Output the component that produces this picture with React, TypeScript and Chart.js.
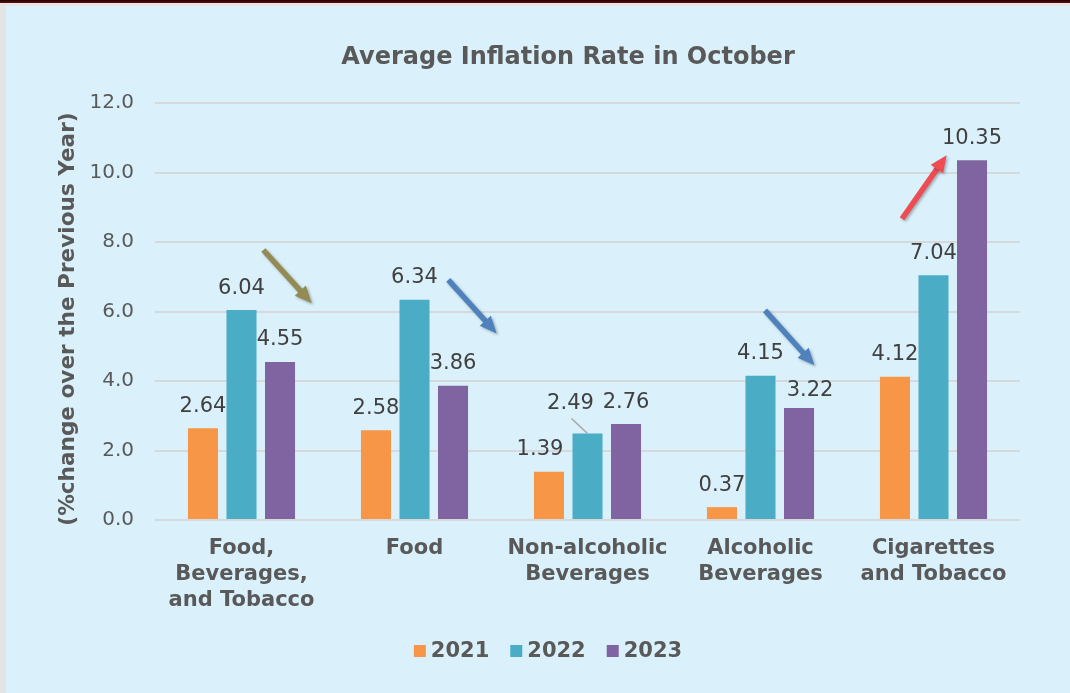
import React, { useEffect, useRef } from "react";
import { Chart, registerables } from "chart.js";

Chart.register(...registerables);

// ---------- data ----------
const categories: string[][] = [
  ["Food,", "Beverages,", "and Tobacco"],
  ["Food"],
  ["Non-alcoholic", "Beverages"],
  ["Alcoholic", "Beverages"],
  ["Cigarettes", "and Tobacco"],
];
const seriesNames = ["2021", "2022", "2023"];
const values2021 = [2.64, 2.58, 1.39, 0.37, 4.12];
const values2022 = [6.04, 6.34, 2.49, 4.15, 7.04];
const values2023 = [4.55, 3.86, 2.76, 3.22, 10.35];
const seriesColors = ["#F79646", "#4BACC6", "#8064A2"];
const yMin = 0;
const yMax = 12;
const yStep = 2;
const titleText = "Average Inflation Rate in October";
const yAxisTitle = "(%change over the Previous Year)  ";

// trend arrows, anchored in data space: [category index, value]
const arrows = [
  { from: [0.126, 7.77], to: [0.406, 6.24], color: "#948A54" },
  { from: [1.195, 6.91], to: [1.475, 5.37], color: "#4F81BD" },
  { from: [3.026, 6.03], to: [3.312, 4.45], color: "#4F81BD" },
  { from: [3.818, 8.67], to: [4.076, 10.5], color: "#EE4B52" },
];

// label nudges (dataset-index)
const labelNudges: Record<string, { dx?: number; dy?: number; leader?: boolean }> = {
  "0-2": { dx: -9 },
  "1-2": { dx: -17, dy: -8, leader: true },
  "2-3": { dx: 11, dy: 4 },
};

const FONT = "'DejaVu Sans', Verdana, sans-serif";

const overlayPlugin = {
  id: "overlay",
  afterDatasetsDraw(chart: any) {
    const { ctx, chartArea, scales } = chart;
    const xs = scales.x;
    const ys = scales.y;

    // data labels
    ctx.save();
    ctx.font = `21px ${FONT}`;
    ctx.fillStyle = "#404040";
    ctx.textAlign = "center";
    ctx.textBaseline = "middle";
    chart.data.datasets.forEach((ds: any, di: number) => {
      const meta = chart.getDatasetMeta(di);
      meta.data.forEach((bar: any, i: number) => {
        const n = labelNudges[`${di}-${i}`] || {};
        const lx = bar.x + (n.dx || 0);
        const ly = bar.y - 22 + (n.dy || 0);
        ctx.fillText(Number(ds.data[i]).toFixed(2), lx, ly);
        if (n.leader) {
          ctx.strokeStyle = "#A6A6A6";
          ctx.lineWidth = 1.5;
          ctx.beginPath();
          ctx.moveTo(lx + 1, ly + 15);
          ctx.lineTo(bar.x, bar.y);
          ctx.stroke();
        }
      });
    });
    ctx.restore();

    // arrows
    arrows.forEach((a) => {
      const x1 = xs.getPixelForValue(a.from[0]);
      const y1 = ys.getPixelForValue(a.from[1]);
      const x2 = xs.getPixelForValue(a.to[0]);
      const y2 = ys.getPixelForValue(a.to[1]);
      const dx = x2 - x1;
      const dy = y2 - y1;
      const len = Math.hypot(dx, dy);
      const ux = dx / len;
      const uy = dy / len;
      const nx = -uy;
      const ny = ux;
      const headLen = 17;
      const headW = 15;
      const bx = x2 - ux * headLen;
      const by = y2 - uy * headLen;
      ctx.save();
      ctx.shadowColor = "rgba(0,0,0,0.3)";
      ctx.shadowBlur = 3;
      ctx.shadowOffsetX = 1.5;
      ctx.shadowOffsetY = 1.5;
      ctx.strokeStyle = a.color;
      ctx.fillStyle = a.color;
      ctx.lineWidth = 5.5;
      ctx.beginPath();
      ctx.moveTo(x1, y1);
      ctx.lineTo(bx + ux * 2, by + uy * 2);
      ctx.stroke();
      ctx.beginPath();
      ctx.moveTo(x2, y2);
      ctx.lineTo(bx + nx * headW / 2, by + ny * headW / 2);
      ctx.lineTo(bx - nx * headW / 2, by - ny * headW / 2);
      ctx.closePath();
      ctx.fill();
      ctx.restore();
    });

    // title
    ctx.save();
    ctx.font = `bold 24px ${FONT}`;
    ctx.fillStyle = "#595959";
    ctx.textAlign = "center";
    ctx.textBaseline = "middle";
    const cx = (chartArea.left + chartArea.right) / 2;
    ctx.fillText(titleText, cx - 19.5, chartArea.top - 45);
    ctx.restore();

    // legend
    ctx.save();
    ctx.font = `bold 21px ${FONT}`;
    ctx.textBaseline = "middle";
    ctx.textAlign = "left";
    const box = 12;
    const gapBoxText = 5;
    const gapItems = 21;
    const widths = seriesNames.map((s) => box + gapBoxText + ctx.measureText(s).width);
    const total = widths.reduce((p, w) => p + w, 0) + gapItems * (seriesNames.length - 1);
    let x = cx - 39.5 - total / 2;
    const ly = chartArea.bottom + 131;
    seriesNames.forEach((s, i) => {
      ctx.fillStyle = seriesColors[i];
      ctx.fillRect(x, ly - box / 2, box, box);
      ctx.fillStyle = "#595959";
      ctx.fillText(s, x + box + gapBoxText, ly + 1);
      x += widths[i] + gapItems;
    });
    ctx.restore();
  },
};

export default function App() {
  const canvasRef = useRef<HTMLCanvasElement | null>(null);

  useEffect(() => {
    document.body.style.margin = "0";
    document.body.style.overflow = "hidden";
    const canvas = canvasRef.current;
    if (!canvas) return;
    const chart = new Chart(canvas, {
      type: "bar",
      data: {
        labels: categories,
        datasets: [values2021, values2022, values2023].map((vals, i) => ({
          label: seriesNames[i],
          data: vals,
          backgroundColor: seriesColors[i],
          borderWidth: 0,
          categoryPercentage: 0.668,
          barPercentage: 0.78,
        })),
      },
      options: {
        responsive: false,
        animation: false,
        devicePixelRatio: 1,
        layout: { padding: { top: 97, right: 50, left: 0, bottom: 0 } },
        plugins: {
          legend: { display: false },
          title: { display: false },
          tooltip: { enabled: false },
        },
        scales: {
          x: {
            grid: { display: false, drawTicks: false },
            border: { display: false },
            ticks: {
              color: "#595959",
              font: { family: FONT, size: 21, weight: "bold", lineHeight: 1.22 },
              maxRotation: 0,
              autoSkip: false,
              padding: 16,
            },
            afterFit: (scale: any) => {
              scale.height = 173;
            },
          },
          y: {
            min: yMin,
            max: yMax,
            grid: { color: "#D6D9DB", lineWidth: 2, drawTicks: false },
            border: { display: false },
            ticks: {
              stepSize: yStep,
              color: "#595959",
              font: { family: FONT, size: 20 },
              padding: 21,
              callback: (v: any) => Number(v).toFixed(1),
            },
            title: {
              display: true,
              text: yAxisTitle,
              color: "#595959",
              font: { family: FONT, size: 21.6, weight: "bold", lineHeight: 1.2 },
              padding: { top: 49, bottom: 0 },
            },
            afterFit: (scale: any) => {
              scale.width = 149;
            },
          },
        },
      },
      plugins: [overlayPlugin],
    });
    return () => chart.destroy();
  }, []);

  return (
    <div
      style={{
        position: "fixed",
        left: 0,
        top: 0,
        width: 1070,
        height: 693,
        overflow: "hidden",
        background: "#E4E4E4",
      }}
    >
      <div
        style={{
          position: "absolute",
          left: 0,
          top: 0,
          width: 1070,
          height: 3,
          background: "linear-gradient(#1a0000, #6b0a0a)",
        }}
      />
      <div
        style={{
          position: "absolute",
          left: 6,
          top: 6,
          width: 1064,
          height: 687,
          background: "#DAF1FB",
        }}
      >
        <canvas ref={canvasRef} width={1064} height={687} style={{ display: "block" }} />
      </div>
    </div>
  );
}
